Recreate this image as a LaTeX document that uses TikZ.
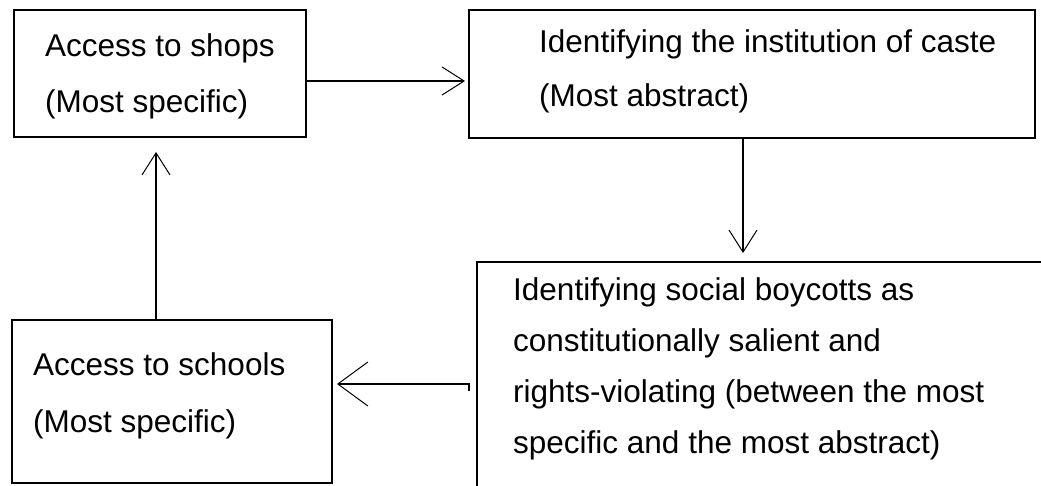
\documentclass[tikz,border=0pt]{standalone}
\usepackage{fontspec}
\setmainfont{Liberation Sans}
\usetikzlibrary{arrows.meta,calc}
\tikzset{
  box/.style ={draw=black, line width=1.6pt, anchor=north west, inner sep=0pt, outer sep=0pt},
  txt/.style ={font=\fontsize{31.5}{#1}\selectfont, align=left, anchor=base west, inner sep=0pt},
  arr/.style ={-{Straight Barb[length=22pt,width=28pt,line width=1pt]}, line width=1.6pt},
  larr/.style={-{Straight Barb[length=30pt,width=44pt,line width=1pt]}, line width=1.6pt},
}
\begin{document}
\begin{tikzpicture}[x=1pt,y=-1pt]
\useasboundingbox (0,0) rectangle (1041,486);
% boxes
\node[box, minimum width=292pt, minimum height=127pt] (shops)   at (14,10)  {};
\node[box, minimum width=566pt, minimum height=128pt] (caste)   at (469,10) {};
\node[box, minimum width=620pt, minimum height=260pt] (boycott) at (477,262) {};
\node[box, minimum width=320pt, minimum height=163pt] (schools) at (12,320) {};
% texts (placed by the baseline of their last line)
\node[txt=56] (shopstxt)   at ([shift={(31,103)}]shops.north west)   {Access to shops\\(Most specific)};
\node[txt=54] (castetxt)   at ([shift={(70,97)}]caste.north west)    {Identifying the institution of caste\\(Most abstract)};
\node[txt=51] (boycotttxt) at ([shift={(36,191)}]boycott.north west) {Identifying social boycotts as\\constitutionally salient and\\rights-violating (between the most\\specific and the most abstract)};
\node[txt=57] (schoolstxt) at ([shift={(21,112)}]schools.north west) {Access to schools\\(Most specific)};
% connectors
\draw[arr]  ([shift={(0,71)}]shops.north east) -- ([shift={(-4,71)}]caste.north west);
\draw[arr]  ([shift={(274,0)}]caste.south west) -- ([shift={(266,-9)}]boycott.north west);
\draw[larr] ([shift={(-8,129)}]boycott.north west) -- ++(0,-7) -- ([shift={(5,64)}]schools.north east);
\draw[arr]  ([shift={(144,0)}]schools.north west) -- ([shift={(142,15)}]shops.south west);
\end{tikzpicture}
\end{document}
